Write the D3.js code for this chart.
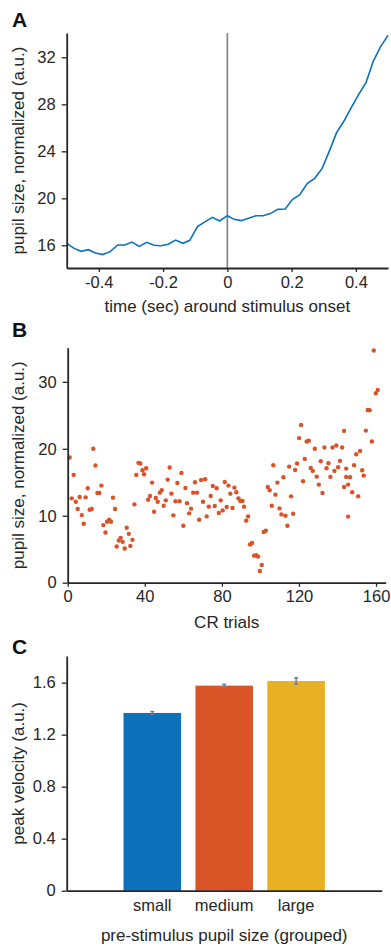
<!DOCTYPE html>
<html>
<head>
<meta charset="utf-8">
<script src="https://cdn.jsdelivr.net/npm/d3@7"></script>
<style>
  body { margin: 0; background: #fff; }
  svg { display: block; font-family: "Liberation Sans", Arial, sans-serif; }
  .axis path, .axis line { stroke: #262626; }
  .axis text { fill: #262626; font-size: 16.5px; }
  .title { fill: #262626; font-size: 17px; }
  .panel { fill: #111; font-size: 21px; font-weight: bold; }
</style>
</head>
<body>
<div id="chart"></div>
<script>
// panel A: average pupil trace around stimulus onset
var timeSec = [-0.5, -0.477, -0.455, -0.433, -0.41, -0.388, -0.365, -0.341, -0.319, -0.297,
  -0.274, -0.251, -0.228, -0.207, -0.184, -0.161, -0.138, -0.117, -0.093, -0.07,
  -0.047, -0.024, 0, 0.021, 0.043, 0.066, 0.089, 0.111, 0.134, 0.157,
  0.18, 0.203, 0.225, 0.249, 0.272, 0.295, 0.318, 0.34, 0.363, 0.386,
  0.409, 0.432, 0.454, 0.477, 0.5];
var pupilTrace = [16.17, 15.74, 15.49, 15.63, 15.35, 15.21, 15.46, 16.03, 16.03, 16.28,
  15.91, 16.26, 16.0, 15.97, 16.09, 16.45, 16.17, 16.43, 17.59, 17.99,
  18.38, 18.07, 18.52, 18.21, 18.1, 18.3, 18.52, 18.52, 18.7, 19.06,
  19.09, 19.91, 20.28, 21.28, 21.7, 22.55, 24.06, 25.59, 26.58, 27.74,
  28.85, 29.87, 31.66, 32.91, 33.87];

// panel B: pupil size per CR trial (positions)
var crTrial = [1.0, 2.1, 3.1, 4.2, 5.2, 6.2, 7.3, 8.3, 9.3, 10.4,
  11.4, 12.5, 13.3, 14.4, 15.4, 16.4, 17.5, 18.5, 19.6, 20.4,
  21.5, 22.5, 23.5, 24.6, 25.4, 26.5, 27.5, 28.5, 29.6, 30.6,
  31.7, 32.5, 33.6, 34.6, 35.6, 36.7, 37.7, 38.8, 39.6, 40.7,
  41.7, 42.7, 43.8, 44.8, 45.7, 46.7, 47.8, 48.8, 49.8, 50.9,
  51.9, 52.9, 53.8, 54.8, 55.9, 56.9, 58.0, 59.0, 60.0, 61.1,
  61.9, 63.0, 64.0, 65.1, 66.1, 67.1, 68.2, 69.2, 70.2, 71.3,
  72.1, 73.2, 74.2, 75.3, 76.3, 77.3, 78.4, 79.4, 80.4, 81.5,
  82.5, 83.4, 84.4, 85.5, 86.5, 87.5, 88.6, 89.6, 90.7, 91.5,
  92.6, 93.6, 94.6, 95.7, 96.7, 97.8, 98.8, 99.7, 100.7, 101.7,
  102.8, 103.8, 104.8, 105.9, 106.7, 107.8, 108.8, 109.9, 110.9, 111.9,
  113.0, 114.0, 114.9, 115.9, 117.0, 118.0, 119.0, 120.1, 121.1, 122.1,
  123.0, 124.0, 125.1, 126.1, 127.2, 128.2, 129.2, 130.3, 131.3, 132.2,
  133.2, 134.3, 135.3, 136.3, 137.4, 138.4, 139.4, 140.3, 141.3, 142.4,
  143.4, 143.4, 144.5, 144.5, 145.5, 145.5, 146.5, 147.6, 148.6, 149.7,
  150.7, 151.7, 152.8, 153.6, 154.7, 155.7, 156.7, 157.8, 158.8, 159.9,
  160.9];
var crPupil = [18.7, 12.6, 16.1, 12.1, 11.0, 12.8, 10.1, 8.8, 12.75, 14.1,
  10.9, 11.0, 20.0, 17.5, 13.4, 13.4, 14.5, 8.6, 7.5, 9.1,
  9.4, 9.1, 12.7, 11.0, 5.4, 6.3, 6.7, 6.1, 5.1, 8.2,
  7.3, 5.5, 6.4, 11.7, 16.1, 17.9, 17.8, 16.8, 16.2, 17.1,
  12.4, 12.95, 14.95, 10.6, 12.65, 12.1, 13.45, 13.8, 11.5, 12.3,
  15.4, 17.2, 13.3, 10.06, 12.16, 14.9, 12.16, 16.4, 8.5, 14.15,
  11.86, 10.36, 11.06, 13.45, 15.0, 13.45, 9.4, 15.35, 12.1, 15.45,
  9.9, 11.36, 12.95, 14.45, 11.46, 14.1, 10.4, 12.3, 10.8, 15.05,
  11.3, 14.5, 13.3, 11.16, 14.2, 13.5, 12.6, 12.2, 12.2, 11.36,
  9.27, 9.9, 5.7, 5.93, 4.04, 4.09, 3.9, 1.74, 2.64, 7.57,
  7.77, 14.3, 13.8, 11.5, 17.54, 13.15, 14.95, 11.1, 10.2, 15.74,
  10.0, 8.5, 17.34, 12.9, 10.3, 16.84, 17.8, 21.6, 23.57, 15.15,
  18.49, 21.1, 21.2, 17.14, 16.7, 20.0, 15.84, 14.65, 18.14, 13.4,
  20.2, 17.1, 17.84, 15.8, 20.2, 16.7, 20.5, 17.24, 18.2, 20.2,
  14.3, 22.67, 17.04, 15.8, 9.87, 14.65, 15.74, 13.5, 17.54, 19.18,
  12.9, 19.68, 16.8, 16.0, 22.72, 25.8, 25.76, 21.08, 34.68, 28.3,
  28.8];

// panel C: peak velocity by pre-stimulus pupil group
var groups = ["small", "medium", "large"];
var peakVel = [1.367, 1.577, 1.613];
var peakErr = [0.011, 0.01, 0.024];
var groupColors = ["#0C71BA", "#D95427", "#EAB023"];

var width = 391, height = 948;

var svg = d3.select("#chart").append("svg")
  .attr("width", width)
  .attr("height", height);

function styleAxis(g) {
  g.attr("class", "axis");
  g.select(".domain").attr("stroke-width", 1.8);
  g.selectAll(".tick line").attr("stroke-width", 1.3);
}

/* ---------- A ---------- */
var xA = d3.scaleLinear().domain([-0.5, 0.5]).range([66.7, 388]);
var yA = d3.scaleLinear().domain([14.07, 34.07]).range([268, 33]);

svg.append("text").attr("class", "panel").attr("x", 12).attr("y", 27).text("A");

svg.append("line")
  .attr("x1", xA(0)).attr("x2", xA(0))
  .attr("y1", yA.range()[1]).attr("y2", yA.range()[0])
  .attr("stroke", "#7f7f7f").attr("stroke-width", 1.6);

var lineA = d3.line()
  .x(function(d, i) { return xA(timeSec[i]); })
  .y(function(d) { return yA(d); });

svg.append("path")
  .datum(pupilTrace)
  .attr("fill", "none")
  .attr("stroke", "#0C71BA")
  .attr("stroke-width", 1.6)
  .attr("d", lineA);

svg.append("g")
  .attr("transform", "translate(0," + yA.range()[0] + ")")
  .call(d3.axisBottom(xA).tickValues([-0.4, -0.2, 0, 0.2, 0.4]).tickSize(4).tickPadding(4)
    .tickFormat(function(d) { return d === 0 ? "0" : d3.format(".1f")(d).replace("−", "-"); })
    .tickSizeOuter(0))
  .call(styleAxis);

svg.append("g")
  .attr("transform", "translate(" + xA.range()[0] + ",0)")
  .call(d3.axisLeft(yA).tickValues([16, 20, 24, 28, 32]).tickSize(5).tickPadding(6).tickSizeOuter(0))
  .call(styleAxis);

svg.append("text").attr("class", "title")
  .attr("x", (xA.range()[0] + xA.range()[1]) / 2).attr("y", 312)
  .attr("text-anchor", "middle")
  .text("time (sec) around stimulus onset");

svg.append("text").attr("class", "title")
  .attr("transform", "translate(24," + (yA.range()[0] + yA.range()[1]) / 2 + ") rotate(-90)")
  .attr("text-anchor", "middle")
  .text("pupil size, normalized (a.u.)");

/* ---------- B ---------- */
var xB = d3.scaleLinear().domain([0, 165]).range([67.7, 385.7]);
var yB = d3.scaleLinear().domain([0, 35.1]).range([582.7, 347.7]);

svg.append("text").attr("class", "panel").attr("x", 12).attr("y", 337).text("B");

svg.append("g")
  .selectAll("circle")
  .data(crPupil)
  .enter().append("circle")
    .attr("cx", function(d, i) { return xB(crTrial[i]); })
    .attr("cy", function(d) { return yB(d); })
    .attr("r", 2.2)
    .attr("fill", "#D9532A");

svg.append("g")
  .attr("transform", "translate(0," + yB.range()[0] + ")")
  .call(d3.axisBottom(xB).tickValues([0, 40, 80, 120, 160]).tickSize(4).tickPadding(4).tickSizeOuter(0))
  .call(styleAxis);

svg.append("g")
  .attr("transform", "translate(" + xB.range()[0] + ",0)")
  .call(d3.axisLeft(yB).tickValues([0, 10, 20, 30]).tickSize(5).tickPadding(6).tickSizeOuter(0))
  .call(styleAxis);

svg.append("text").attr("class", "title")
  .attr("x", (xB.range()[0] + xB.range()[1]) / 2).attr("y", 627.5)
  .attr("text-anchor", "middle")
  .text("CR trials");

svg.append("text").attr("class", "title")
  .attr("transform", "translate(24," + (yB.range()[0] + yB.range()[1]) / 2 + ") rotate(-90)")
  .attr("text-anchor", "middle")
  .text("pupil size, normalized (a.u.)");

/* ---------- C ---------- */
var xC = d3.scaleBand().domain(groups).range([66.7, 381.7]).paddingInner(0.2).paddingOuter(0.79);
var yC = d3.scaleLinear().domain([0, 1.805]).range([890.7, 656]);

svg.append("text").attr("class", "panel").attr("x", 12).attr("y", 654).text("C");

svg.append("g")
  .selectAll("rect")
  .data(groups)
  .enter().append("rect")
    .attr("x", function(d) { return xC(d); })
    .attr("width", xC.bandwidth())
    .attr("y", function(d, i) { return yC(peakVel[i]); })
    .attr("height", function(d, i) { return yC(0) - yC(peakVel[i]); })
    .attr("fill", function(d, i) { return groupColors[i]; });

var err = svg.append("g")
  .attr("stroke", "#6f7f90")
  .attr("stroke-width", 1.5)
  .selectAll("g")
  .data(groups)
  .enter().append("g");

err.append("line")
  .attr("x1", function(d) { return xC(d) + xC.bandwidth() / 2; })
  .attr("x2", function(d) { return xC(d) + xC.bandwidth() / 2; })
  .attr("y1", function(d, i) { return yC(peakVel[i] - peakErr[i]); })
  .attr("y2", function(d, i) { return yC(peakVel[i] + peakErr[i]); });

[-1, 1].forEach(function(s) {
  err.append("line")
    .attr("x1", function(d) { return xC(d) + xC.bandwidth() / 2 - 2; })
    .attr("x2", function(d) { return xC(d) + xC.bandwidth() / 2 + 2; })
    .attr("y1", function(d, i) { return yC(peakVel[i] + s * peakErr[i]); })
    .attr("y2", function(d, i) { return yC(peakVel[i] + s * peakErr[i]); });
});

svg.append("g")
  .attr("transform", "translate(0," + yC.range()[0] + ")")
  .call(d3.axisBottom(xC).tickSize(0).tickPadding(9).tickSizeOuter(0))
  .call(styleAxis);

svg.append("g")
  .attr("transform", "translate(" + xC.range()[0] + ",0)")
  .call(d3.axisLeft(yC).tickValues([0, 0.4, 0.8, 1.2, 1.6]).tickSize(5).tickPadding(6).tickSizeOuter(0)
    .tickFormat(function(d) { return d === 0 ? "0" : d3.format(".1f")(d); }))
  .call(styleAxis);

svg.append("text").attr("class", "title")
  .attr("x", xC("medium") + xC.bandwidth() / 2).attr("y", 941)
  .attr("text-anchor", "middle")
  .text("pre-stimulus pupil size (grouped)");

svg.append("text").attr("class", "title")
  .attr("transform", "translate(24," + (yC.range()[0] + yC.range()[1]) / 2 + ") rotate(-90)")
  .attr("text-anchor", "middle")
  .text("peak velocity (a.u.)");
</script>
</body>
</html>
